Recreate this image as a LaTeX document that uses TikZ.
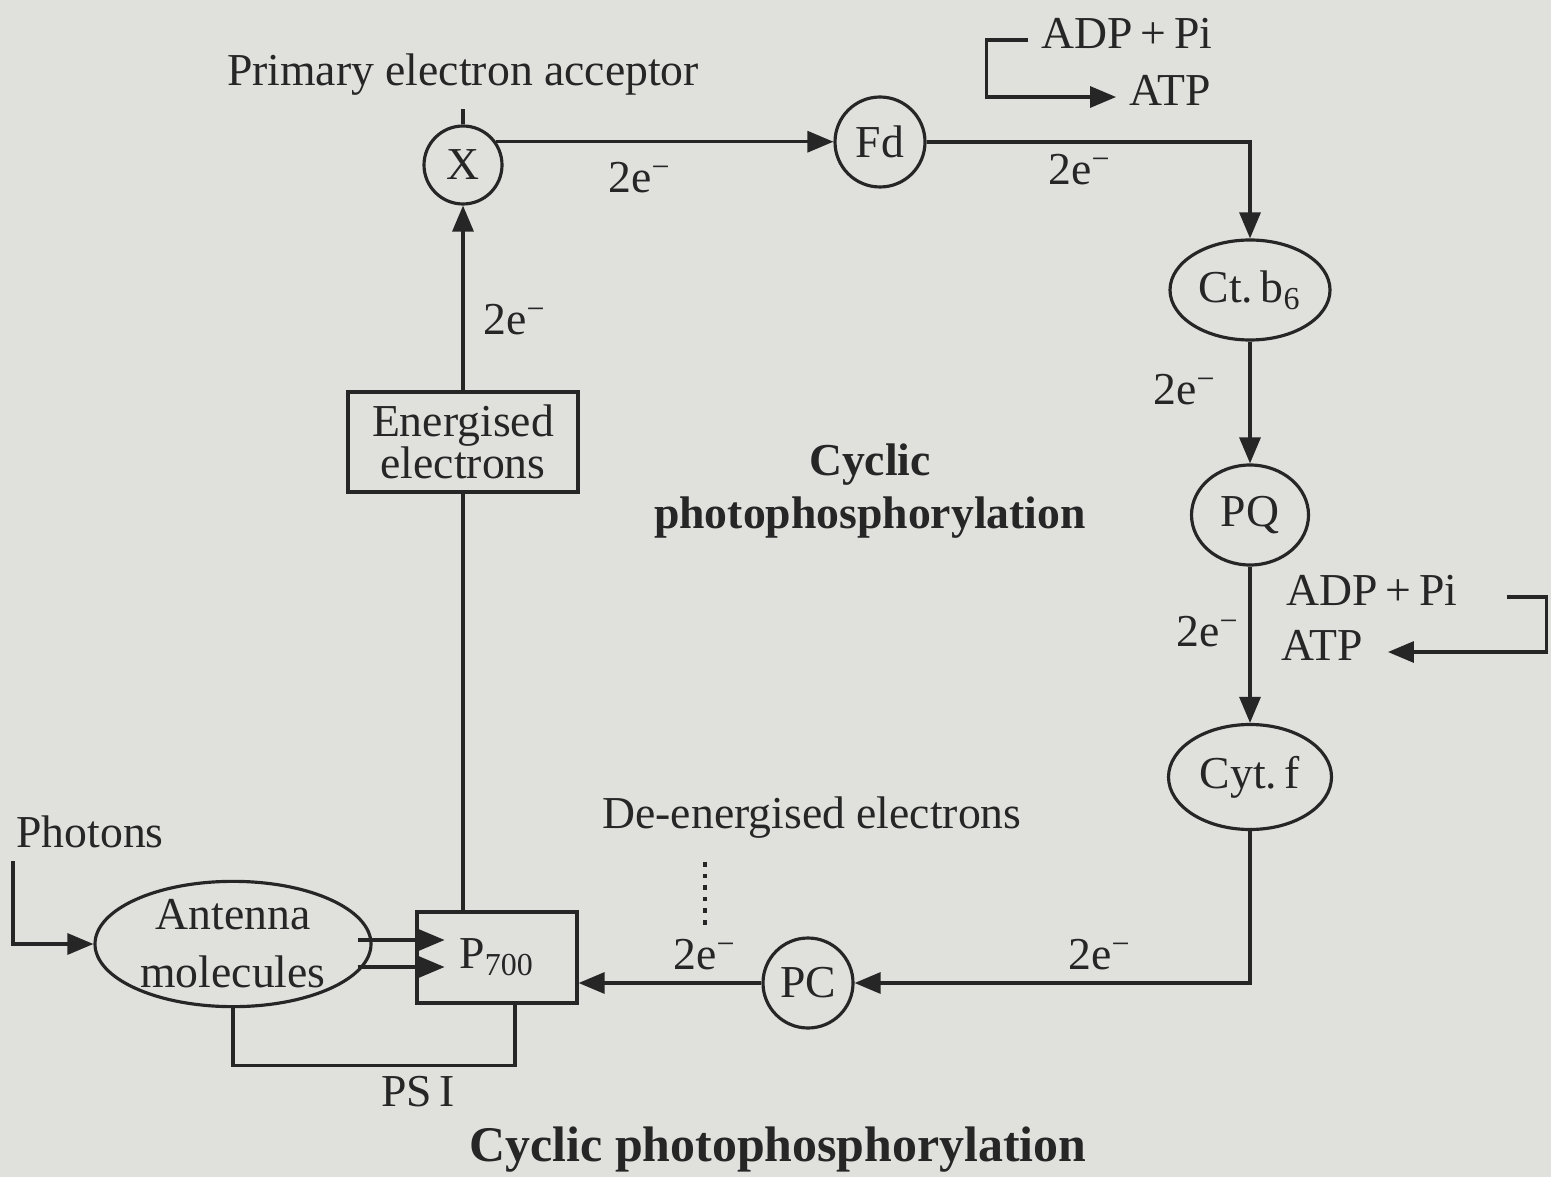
\documentclass[tikz,border=0pt]{standalone}
\usepackage{fontspec}
\setmainfont{Liberation Serif}
\usetikzlibrary{arrows.meta,shapes.geometric}
\definecolor{paper}{RGB}{224,224,221}
\definecolor{ink}{RGB}{38,38,38}
\newcommand{\etwo}{2e\textsuperscript{−}}

\begin{document}
\begin{tikzpicture}[x=1cm,y=1cm,font=\fontsize{13}{15}\selectfont,color=ink,line width=0.9pt,
  >={Triangle[length=2.6mm,width=2.1mm]},
  carrier/.style={draw,circle,minimum size=0.86cm,inner sep=0pt},
  oval/.style={draw,ellipse,inner sep=0pt},
  box/.style={draw,rectangle,inner sep=2pt,align=center}]
\fill[paper] (0,0) rectangle (15.51,11.77);
\node (prim) at (4.63,11.02) {Primary electron acceptor};
\node[carrier,minimum size=0.78cm] (X) at (4.63,10.12) {X};
\node[carrier,minimum size=0.90cm] (Fd) at (8.80,10.35) {Fd};
\node (adpa) at (11.27,11.44) {ADP\,+\,Pi};
\node (atpa) at (11.70,10.87) {ATP};
\node[oval,minimum width=1.60cm,minimum height=1.00cm] (ctb) at (12.50,8.87) {Ct.\,b\textsubscript{6}};
\node[oval,minimum width=1.17cm,minimum height=1.00cm] (PQ) at (12.50,6.62) {PQ};
\node[oval,minimum width=1.63cm,minimum height=1.05cm] (cytf) at (12.50,4.00) {Cyt.\,f};
\node (adpb) at (13.72,5.87) {ADP\,+\,Pi};
\node (atpb) at (13.22,5.32) {ATP};
\node[carrier,minimum size=0.90cm] (PC) at (8.08,1.94) {PC};
\node[box,minimum width=1.60cm,minimum height=0.91cm] (p700) at (4.97,2.195) {P\textsubscript{700}};
\node[oval,minimum width=2.76cm,minimum height=1.20cm,align=center,font=\fontsize{13}{16.5}\selectfont] (ant) at (2.33,2.33) {Antenna\\molecules};
\node (phot) at (0.90,3.45) {Photons};
\node (psi) at (4.18,0.85) {PS\,I};
\node[box,minimum width=2.30cm,minimum height=1.00cm,font=\fontsize{13}{12}\selectfont] (en) at (4.63,7.35) {Energised\\electrons};
\node (deen) at (8.12,3.59) {De-energised electrons};
\node[font=\fontsize{13}{15}\selectfont\bfseries,align=center] (cyc) at (8.70,6.86) {Cyclic\\photophosphorylation};
\node[font=\fontsize{14.2}{16}\selectfont\bfseries] (title) at (7.78,0.27) {Cyclic photophosphorylation};
\node (e1) at (6.40,9.99) {\etwo};
\node (e2) at (10.80,10.07) {\etwo};
\node (e3) at (11.85,7.87) {\etwo};
\node (e4) at (12.08,5.45) {\etwo};
\node (e5) at (11.00,2.22) {\etwo};
\node (e6) at (7.05,2.22) {\etwo};
\node (e7) at (5.15,8.57) {\etwo};
\draw (X.north) -- (X.north |- prim.south);
\draw[->] (X.35) -- (X.35 -| Fd.west);
\draw[->] (Fd.east) -| (ctb.north);
\draw[->] (adpa.mid west) -- ++(-0.42,0) |- (atpa.mid west);
\draw[->] (ctb.south) -- (PQ.north);
\draw[->] (PQ.south) -- (cytf.north);
\draw[->] (adpb.mid east) ++(0.36,0) -- ++(0.40,0) |- ([xshift=0.12cm]atpb.mid east);
\draw[->] (cytf.south) |- (PC.east);
\draw[->] (PC.west) -- (PC.west -| p700.east);
\draw[dotted,line width=1.3pt] ([yshift=-0.1cm]e6.north |- deen.south) -- (e6.north);
\draw[->] ([xshift=-0.15cm,yshift=0.04cm]ant.east) -- ++(0.87,0);
\draw[->] ([xshift=-0.15cm,yshift=-0.23cm]ant.east) -- ++(0.87,0);
\draw[->] ([xshift=0.1cm]phot.south west) |- (ant.west);
\draw (ant.south) -- ++(0,-0.57) -| ([xshift=0.18cm]p700.south);
\draw (en.south) -- (en.south |- p700.north);
\draw[->] (en.north) -- (X.south);
\end{tikzpicture}
\end{document}
